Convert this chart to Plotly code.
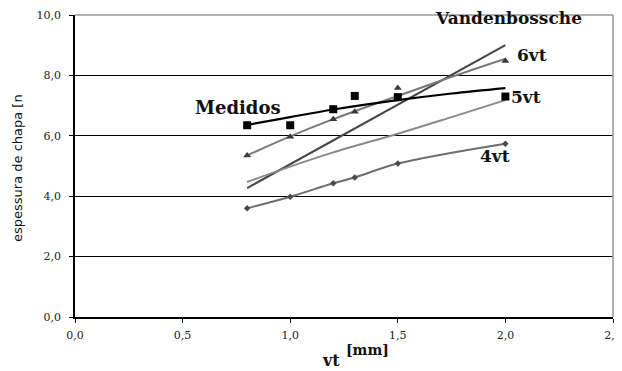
import plotly.graph_objects as go

# data
vt = [0.8, 1.0, 1.2, 1.3, 1.5, 2.0]
medidos_pts = [6.35, 6.35, 6.88, 7.32, 7.28, 7.30]
medidos_trend_x = [0.8, 1.0, 1.2, 1.5, 1.75, 2.0]
medidos_trend = [6.36, 6.62, 6.87, 7.18, 7.40, 7.58]
vt6_pts = [5.35, 5.97, 6.55, 6.80, 7.58, 8.48]
vt6_trend_x = [0.8, 1.0, 1.2, 1.5, 1.75, 2.0]
vt6_trend = [5.35, 5.98, 6.55, 7.32, 7.95, 8.55]
vanden_x = [0.8, 2.0]
vanden = [4.27, 9.00]
vt5_x = [0.8, 1.0, 1.2, 1.5, 1.75, 2.0]
vt5 = [4.47, 4.98, 5.45, 6.07, 6.62, 7.18]
vt4_pts = [3.60, 3.98, 4.43, 4.62, 5.08, 5.74]

xticks = [0.0, 0.5, 1.0, 1.5, 2.0, 2.5]
xtick_text = ["0,0", "0,5", "1,0", "1,5", "2,0", "2,5"]
yticks = [0, 2, 4, 6, 8, 10]
ytick_text = ["0,0", "2,0", "4,0", "6,0", "8,0", "10,0"]

fig = go.Figure()
fig.add_trace(go.Scatter(x=vanden_x, y=vanden, mode="lines",
                         line=dict(color="#454545", width=2)))
fig.add_trace(go.Scatter(x=vt5_x, y=vt5, mode="lines", line_shape="spline",
                         line=dict(color="#8a8a8a", width=2)))
fig.add_trace(go.Scatter(x=vt6_trend_x, y=vt6_trend, mode="lines", line_shape="spline",
                         line=dict(color="#7a7a7a", width=2)))
fig.add_trace(go.Scatter(x=vt, y=vt6_pts, mode="markers",
                         marker=dict(symbol="triangle-up", size=7, color="#3a3a3a")))
fig.add_trace(go.Scatter(x=vt, y=vt4_pts, mode="lines+markers", line_shape="spline",
                         line=dict(color="#6e6e6e", width=2),
                         marker=dict(symbol="diamond", size=5, color="#4a4a4a")))
fig.add_trace(go.Scatter(x=medidos_trend_x, y=medidos_trend, mode="lines", line_shape="spline",
                         line=dict(color="#000000", width=2.2)))
fig.add_trace(go.Scatter(x=vt, y=medidos_pts, mode="markers",
                         marker=dict(symbol="square", size=8, color="#000000")))

serif = "DejaVu Serif"
OFF = 8  # page body margin
L, T, W, H = 75, 15, 538, 302  # plot box in window pixels
FW, FH = 622 - OFF, 371 - OFF


def px(x, y):
    return (x - L) / W, (T + H - y) / H


ann = [
    dict(text="<b>Vandenbossche</b>", x=508, y=18, size=17),
    dict(text="<b>6vt</b>", x=532, y=55, size=17),
    dict(text="<b>5vt</b>", x=526, y=97, size=17),
    dict(text="<b>4vt</b>", x=495, y=156, size=17),
    dict(text="<b>Medidos</b>", x=238, y=107, size=18),
]
for a in ann:
    ax, ay = px(a["x"], a["y"])
    fig.add_annotation(text=a["text"], xref="paper", yref="paper", x=ax, y=ay,
                       showarrow=False, xanchor="center", yanchor="middle",
                       font=dict(family=serif, size=a["size"], color="#111"))

ax, ay = px(17, 168)
fig.add_annotation(text="espessura de chapa [n", xref="paper", yref="paper",
                   x=ax, y=ay, textangle=-90,
                   showarrow=False, xanchor="center", yanchor="middle",
                   font=dict(family="DejaVu Sans", size=13, color="#111"))
ax, ay = px(331, 360)
fig.add_annotation(text="<b>vt</b>", xref="paper", yref="paper", x=ax, y=ay,
                   showarrow=False, xanchor="center", yanchor="middle",
                   font=dict(family=serif, size=16, color="#111"))
ax, ay = px(367, 350)
fig.add_annotation(text="<b>[mm]</b>", xref="paper", yref="paper", x=ax, y=ay,
                   showarrow=False, xanchor="center", yanchor="middle",
                   font=dict(family=serif, size=14, color="#111"))

fig.update_layout(
    width=FW, height=FH,
    margin=dict(l=L - OFF, r=FW - (L - OFF) - W, t=T - OFF, b=FH - (T - OFF) - H,
                autoexpand=False),
    paper_bgcolor="white", plot_bgcolor="white",
    showlegend=False,
    xaxis=dict(range=[0, 2.5], tickvals=xticks, ticktext=xtick_text,
               showgrid=False, zeroline=False, showline=True, linecolor="#000",
               linewidth=1.5, ticks="outside", ticklen=4, tickcolor="#000",
               automargin=False, ticklabelstandoff=3,
               tickfont=dict(family=serif, size=11, color="#222")),
    yaxis=dict(range=[0, 10], tickvals=yticks, ticktext=ytick_text,
               showgrid=True, gridcolor="#000", gridwidth=1, zeroline=False,
               showline=True, linecolor="#000", linewidth=1.5,
               ticks="outside", ticklen=4, tickcolor="#000",
               automargin=False, ticklabelstandoff=6,
               tickfont=dict(family=serif, size=11, color="#222")),
)
# gray frame on top and right
fig.add_shape(type="line", xref="paper", yref="paper", x0=0, x1=1, y0=1, y1=1,
              line=dict(color="#999", width=1.5))
fig.add_shape(type="line", xref="paper", yref="paper", x0=1, x1=1, y0=0, y1=1,
              line=dict(color="#999", width=1.5))

fig.write_html("out.html")
